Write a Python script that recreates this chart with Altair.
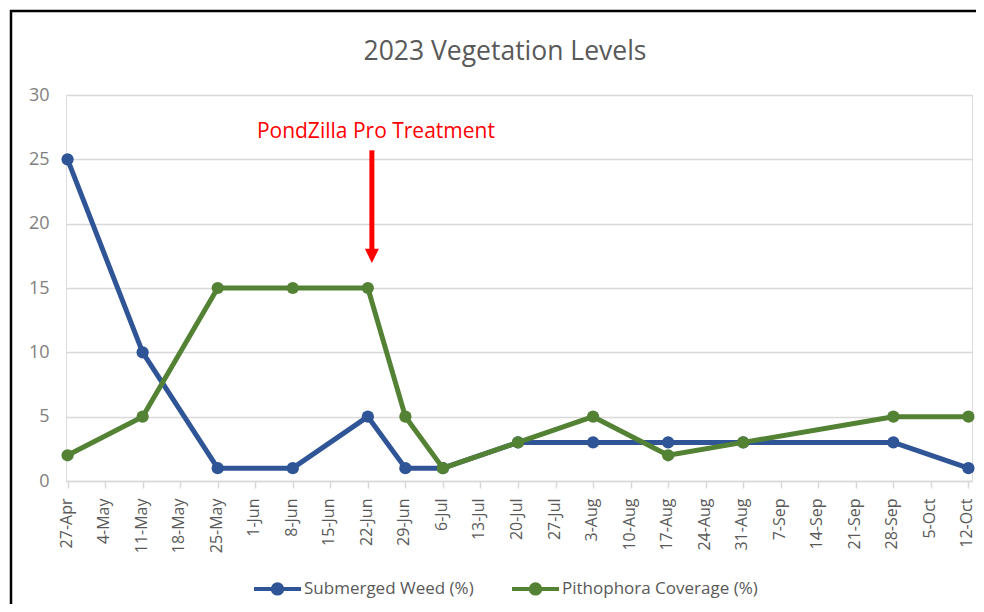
import altair as alt
import pandas as pd

# ---- data ----
dates = ["2023-04-27", "2023-05-11", "2023-05-25", "2023-06-08", "2023-06-22",
         "2023-06-29", "2023-07-06", "2023-07-20", "2023-08-03", "2023-08-17",
         "2023-08-31", "2023-09-28", "2023-10-12"]
submerged = [25, 10, 1, 1, 5, 1, 1, 3, 3, 3, 3, 3, 1]
pithophora = [2, 5, 15, 15, 15, 5, 1, 3, 5, 2, 3, 5, 5]
series_names = ["Submerged Weed (%)", "Pithophora Coverage (%)"]
series_colors = ["#2F5597", "#548235"]

tick_dates = ["2023-04-27", "2023-05-04", "2023-05-11", "2023-05-18", "2023-05-25",
              "2023-06-01", "2023-06-08", "2023-06-15", "2023-06-22", "2023-06-29",
              "2023-07-06", "2023-07-13", "2023-07-20", "2023-07-27", "2023-08-03",
              "2023-08-10", "2023-08-17", "2023-08-24", "2023-08-31", "2023-09-07",
              "2023-09-14", "2023-09-21", "2023-09-28", "2023-10-05", "2023-10-12"]
y_ticks = [0, 5, 10, 15, 20, 25, 30]

title_text = "2023 Vegetation Levels"
annot_text = "PondZilla Pro Treatment"
annot_text_date = "2023-06-23T12:00:00"
annot_text_y = 27.1
arrow_date = "2023-06-22T18:00:00"
arrow_y_top = 25.7
arrow_y_end = 17.95
arrow_head_y = 17.5

# ---- tables ----
rows = []
for d, v in zip(dates, submerged):
    rows.append({"date": d + "T00:00:00", "value": v, "series": series_names[0], "order": 0})
for d, v in zip(dates, pithophora):
    rows.append({"date": d + "T00:00:00", "value": v, "series": series_names[1], "order": 1})
df = pd.DataFrame(rows)

annot_df = pd.DataFrame([{"date": annot_text_date, "y": annot_text_y, "label": annot_text}])
arrow_df = pd.DataFrame([{"date": arrow_date, "y": arrow_y_top, "y2": arrow_y_end, "yh": arrow_head_y}])
title_df = pd.DataFrame([{"label": title_text}])

FONT = "Open Sans"
GRAY = "#595959"
GRID = "#D9D9D9"

x_scale = alt.Scale(domain=[alt.DateTime(year=2023, month=4, date=26, hours=17),
                            alt.DateTime(year=2023, month=10, date=12, hours=16)])
y_scale = alt.Scale(domain=[0, 30], nice=False)
color_scale = alt.Scale(domain=series_names, range=series_colors)

tick_vals = [alt.DateTime(year=int(t[:4]), month=int(t[5:7]), date=int(t[8:10])) for t in tick_dates]

x_axis = alt.Axis(values=tick_vals, format="%-d-%b", labelAngle=-90, labelAlign="right",
                  labelBaseline="middle", labelFont=FONT, labelFontSize=16, labelColor=GRAY,
                  labelPadding=10, labelOffset=-1.5, tickSize=7, tickColor=GRID, tickWidth=1.5,
                  domainColor=GRID, domainWidth=1.5, grid=False, title=None,
                  labelOverlap=False, labelFlush=False, labelBound=False)
y_axis = alt.Axis(values=y_ticks, labelFont=FONT, labelFontSize=18, labelColor="#7F7F7F",
                  labelPadding=17, ticks=False, domain=False, grid=True, gridColor=GRID,
                  gridWidth=1.5, title=None)

X = alt.X("date:T", scale=x_scale, axis=x_axis)

legend_symbol = "M-1,0H1M0.2,0A0.2,0.2,0,1,1,-0.2,0A0.2,0.2,0,1,1,0.2,0Z"
legend = alt.Legend(orient="none", legendX=186, legendY=468, direction="horizontal",
                    title=None, symbolType=legend_symbol, symbolSize=2209,
                    symbolStrokeWidth=4, labelFont=FONT, labelFontSize=17,
                    labelColor=GRAY, labelOffset=1, columnPadding=30, labelLimit=400)

base = alt.Chart(df).encode(
    x=X,
    y=alt.Y("value:Q", scale=y_scale, axis=y_axis),
    color=alt.Color("series:N", scale=color_scale, legend=legend),
    detail="series:N",
)

lines = base.mark_line(strokeWidth=5, strokeJoin="round", strokeCap="round")
points = base.mark_point(filled=True, shape="circle", size=150, opacity=1)

blue_layers = alt.layer(
    lines.transform_filter(alt.datum.order == 0),
    points.transform_filter(alt.datum.order == 0),
)
green_layers = alt.layer(
    lines.transform_filter(alt.datum.order == 1),
    points.transform_filter(alt.datum.order == 1),
)

arrow_line = alt.Chart(arrow_df).mark_rule(color="#FF0000", strokeWidth=5).encode(
    x=X, y=alt.Y("y:Q", scale=y_scale, axis=y_axis), y2="y2:Q")
arrow_head = alt.Chart(arrow_df).mark_point(
    shape="M-1,-1L1,-1L0,1Z", filled=True, color="#FF0000", size=200, opacity=1
).encode(x=X, y=alt.Y("yh:Q", scale=y_scale, axis=y_axis))
annot = alt.Chart(annot_df).mark_text(
    font=FONT, fontSize=21, color="#FF0000", align="center", baseline="middle"
).encode(x=X, y=alt.Y("y:Q", scale=y_scale, axis=y_axis), text="label:N")

title_mark = alt.Chart(title_df).mark_text(
    font=FONT, fontSize=26.5, color=GRAY, align="center", baseline="alphabetic"
).encode(x=alt.value(439), y=alt.value(-35), text="label:N")

# outer frame (decoration of the screenshot)
frame_top = alt.Chart(pd.DataFrame([{"a": 0}])).mark_rule(color="#000000", strokeWidth=2.5).encode(
    x=alt.value(-56), x2=alt.value(918), y=alt.value(-84))
frame_left = alt.Chart(pd.DataFrame([{"a": 0}])).mark_rule(color="#000000", strokeWidth=2.5).encode(
    x=alt.value(-55), y=alt.value(-85), y2=alt.value(517))

chart = alt.layer(
    blue_layers, green_layers, arrow_line, arrow_head, annot, title_mark, frame_top, frame_left
).properties(
    width=906, height=386,
    autosize=alt.AutoSizeParams(type="none"),
    padding={"left": 58, "top": 87, "right": 4, "bottom": 123},
).configure_view(stroke=None).configure(background="#FFFFFF")

chart.save("out.html", embed_options={"renderer": "svg", "actions": False})
